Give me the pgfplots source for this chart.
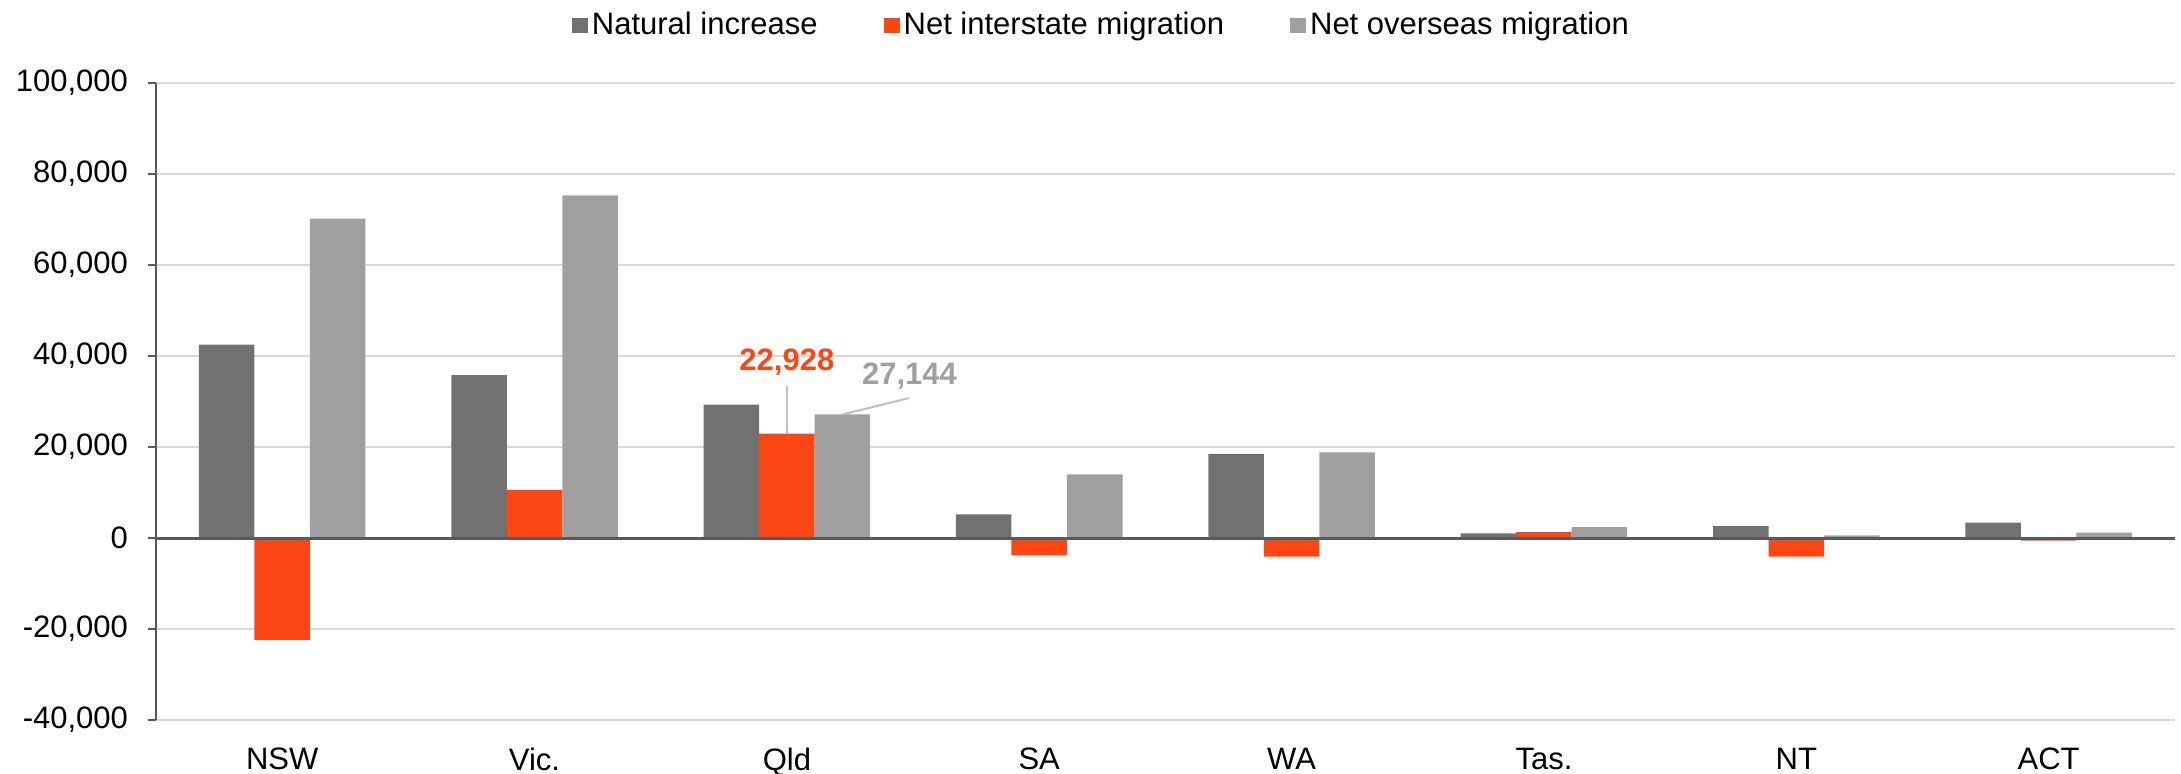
\documentclass[border=0pt]{standalone}
\usepackage{fontspec}
\setmainfont{Liberation Sans}
\usepackage{pgfplots}
\pgfplotsset{compat=1.18}
\definecolor{natc}{HTML}{717171}
\definecolor{intc}{HTML}{FC4614}
\definecolor{ovc}{HTML}{A0A0A0}
\definecolor{axc}{HTML}{595959}
\definecolor{gridc}{HTML}{D9D9D9}
\definecolor{leadc}{HTML}{BFBFBF}
\newcommand{\fs}{\fontsize{15.5}{18}\selectfont}
\begin{document}
\begin{tikzpicture}
\begin{axis}[
  scale only axis, width=1009.5pt, height=318.5pt,
  xmin=-0.5, xmax=7.5, ymin=-40000, ymax=100000,
  ytick={-40000,-20000,0,20000,40000,60000,80000,100000},
  yticklabels={{-40,000},{-20,000},{0},{20,000},{40,000},{60,000},{80,000},{100,000}},
  xtick={0,...,7}, xticklabels={NSW,Vic.,Qld,SA,WA,Tas.,NT,ACT},
  axis lines*=left,
  x axis line style={draw=none},
  y axis line style={axc, line width=1pt},
  ymajorgrids, grid style={gridc, line width=0.8pt},
  tick align=outside, major tick length=4pt,
  ytick style={axc, line width=1pt}, xtick style={draw=none},
  scaled y ticks=false,
  tick label style={font=\fs},
  yticklabel style={xshift=-6.5pt},
  xticklabel style={yshift=-6.3pt},
  ybar, bar width=0.22,
  clip=false,
  legend style={at={(0.4688,1.091)}, anchor=center, draw=none, fill=none,
    legend columns=3, font=\fs,
    /tikz/every even column/.append style={column sep=31pt},
    legend cell align=left},
  legend image code/.code={\fill[#1] (0pt,-3.75pt) rectangle (8pt,3.75pt);},
]
\addplot[fill=natc, draw=none, bar shift=-0.22] coordinates {
  (0,42500) (1,35800) (2,29300) (3,5200) (4,18500) (5,1000) (6,2600) (7,3400)};
\addplot[fill=intc, draw=none, bar shift=0] coordinates {
  (0,-22400) (1,10600) (2,22928) (3,-3800) (4,-4100) (5,1300) (6,-4100) (7,-600)};
\addplot[fill=ovc, draw=none, bar shift=0.22] coordinates {
  (0,70200) (1,75300) (2,27144) (3,14000) (4,18800) (5,2400) (6,600) (7,1200)};
\legend{Natural increase, Net interstate migration, Net overseas migration}
\draw[axc, line width=1.5pt] (axis cs:-0.5,0) -- (axis cs:7.5,0);
\draw[leadc, line width=1pt] (axis cs:2,33470) -- (axis cs:2,22928);
\draw[leadc, line width=1pt] (axis cs:2.484,30770) -- (axis cs:2.22,27144);
\node[text=intc, font=\fs\bfseries] at (axis cs:2,38700) {22,928};
\node[text=ovc, font=\fs\bfseries] at (axis cs:2.486,35600) {27,144};
\coordinate (sw) at (rel axis cs:0,0);
\end{axis}
\pgfresetboundingbox
\path (sw) ++(-78pt,-26.5pt) rectangle ++(1090.5pt,386.5pt);
\end{tikzpicture}
\end{document}
